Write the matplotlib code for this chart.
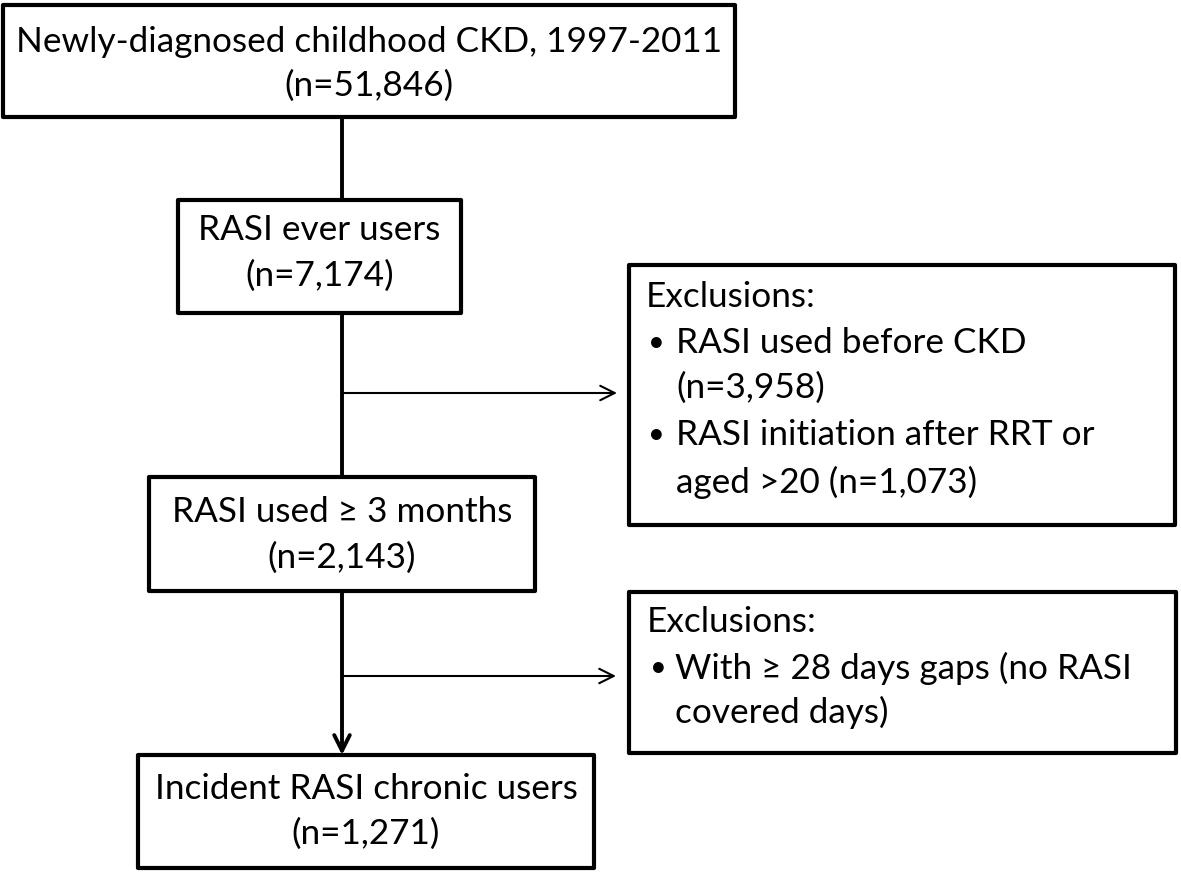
import matplotlib.pyplot as plt
from matplotlib.patches import Rectangle

# flow chart content
main_titles = ['Newly-diagnosed childhood CKD, 1997-2011', 'RASI ever users',
               'RASI used \u2265 3 months', 'Incident RASI chronic users']
main_counts = ['51,846', '7,174', '2,143', '1,271']
excl1_lines = ['Exclusions:', '\u2022', 'RASI used before CKD', '(n=3,958)',
               '\u2022', 'RASI initiation after RRT or', 'aged >20 (n=1,073)']
excl2_lines = ['Exclusions:', '\u2022', 'With \u2265 28 days gaps (no RASI', 'covered days)']

# layout in pixel units (x0, x1, y0, y1)
main_boxes = [(3, 735, 5, 117), (178, 461, 200, 313), (149, 535, 477, 591), (138, 594, 755, 868)]
title_y = [42, 230, 512, 789]
count_y = [86, 276, 558, 834]
excl_boxes = [(629, 1175, 265, 525), (629, 1176, 592, 753)]
spine_x = 342

plt.rcParams['font.family'] = ['Lato', 'DejaVu Sans']
fs = 25.3
bfs = 21

fig = plt.figure(figsize=(11.81, 8.74), dpi=100)
ax = fig.add_axes([0, 0, 1, 1])
ax.set_xlim(0, 1181)
ax.set_ylim(874, 0)
ax.axis('off')

def box(b):
    x0, x1, y0, y1 = b
    ax.add_patch(Rectangle((x0, y0), x1 - x0, y1 - y0, fill=False, lw=3.0,
                           ec='black', joinstyle='round'))

for b, t, n, ty, ny in zip(main_boxes, main_titles, main_counts, title_y, count_y):
    box(b)
    cx = (b[0] + b[1]) / 2
    ax.text(cx, ty, t, ha='center', va='center', fontsize=fs)
    ax.text(cx, ny, '(n=%s)' % n, ha='center', va='center', fontsize=fs)

for b in excl_boxes:
    box(b)

# exclusion text
ax.text(646, 297, excl1_lines[0], va='center', fontsize=fs)
ax.text(648, 343, excl1_lines[1], va='center', fontsize=bfs)
ax.text(676, 343, excl1_lines[2], va='center', fontsize=fs)
ax.text(676, 388, excl1_lines[3], va='center', fontsize=fs)
ax.text(648, 435, excl1_lines[4], va='center', fontsize=bfs)
ax.text(676, 435, excl1_lines[5], va='center', fontsize=fs)
ax.text(676, 482, excl1_lines[6], va='center', fontsize=fs)

ax.text(647, 622, excl2_lines[0], va='center', fontsize=fs)
ax.text(650, 668, excl2_lines[1], va='center', fontsize=bfs)
ax.text(675, 668, excl2_lines[2], va='center', fontsize=fs)
ax.text(675, 712, excl2_lines[3], va='center', fontsize=fs)

# connectors
ax.plot([spine_x, spine_x], [117, 200], color='black', lw=2.8)
ax.plot([spine_x, spine_x], [313, 477], color='black', lw=2.8)
ax.annotate('', xy=(spine_x, 755), xytext=(spine_x, 591),
            arrowprops=dict(arrowstyle='->', lw=2.8, color='black', mutation_scale=28,
                            shrinkA=0, shrinkB=0))
ax.annotate('', xy=(617, 393), xytext=(spine_x, 393),
            arrowprops=dict(arrowstyle='->', lw=1.5, color='black', mutation_scale=26,
                            shrinkA=0, shrinkB=0))
ax.annotate('', xy=(616, 676), xytext=(spine_x, 676),
            arrowprops=dict(arrowstyle='->', lw=1.5, color='black', mutation_scale=26,
                            shrinkA=0, shrinkB=0))

plt.savefig('out.png', dpi=100)
